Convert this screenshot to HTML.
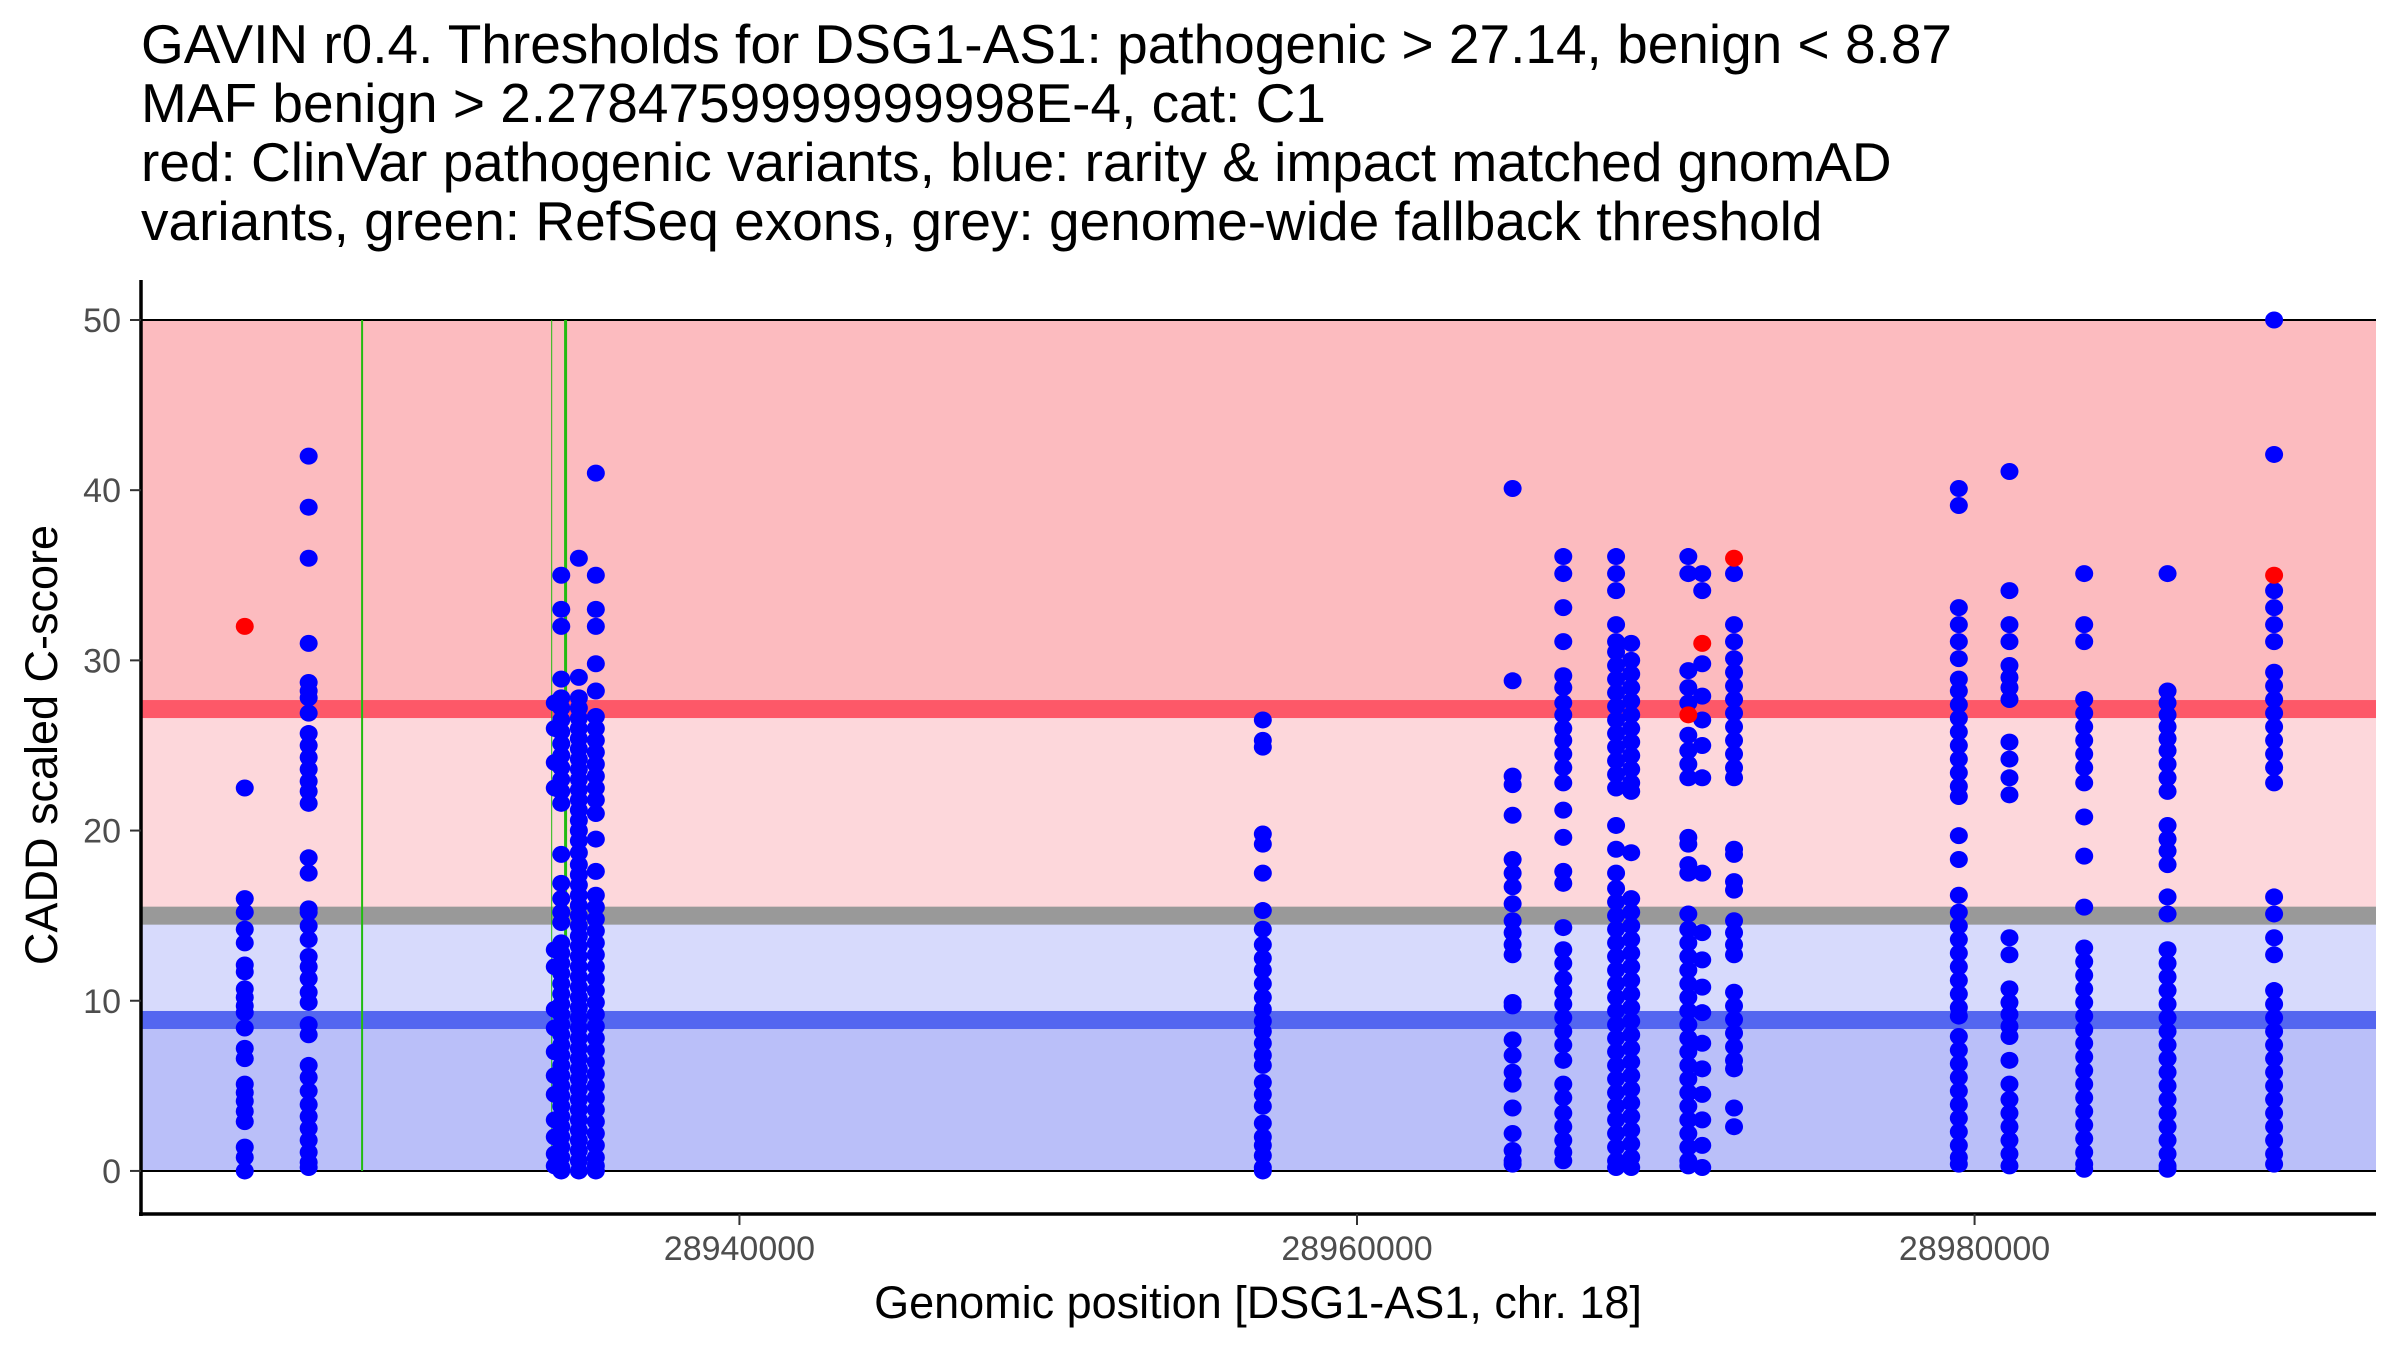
<!DOCTYPE html>
<html><head><meta charset="utf-8"><style>
html,body{margin:0;padding:0;background:#fff;}
svg{display:block;font-family:"Liberation Sans",Arial,sans-serif;}
</style></head><body>
<svg id="chart" width="2400" height="1350" viewBox="0 0 2400 1350" xmlns="http://www.w3.org/2000/svg">
<g font-size="55" fill="#000">
<text x="141" y="63">GAVIN r0.4. Thresholds for DSG1-AS1: pathogenic &gt; 27.14, benign &lt; 8.87</text>
<text x="141" y="122">MAF benign &gt; 2.2784759999999998E-4, cat: C1</text>
<text x="141" y="181">red: ClinVar pathogenic variants, blue: rarity &amp; impact matched gnomAD</text>
<text x="141" y="240">variants, green: RefSeq exons, grey: genome-wide fallback threshold</text>
</g>
<g id="bands"></g>
<g id="exons"></g>
<g id="points"></g>
<g id="axes"></g>
<text x="0" y="0" font-size="45" text-anchor="middle" transform="translate(57,745) rotate(-90)">CADD scaled C-score</text>
<text x="1258" y="1318" font-size="45" text-anchor="middle">Genomic position [DSG1-AS1, chr. 18]</text>
</svg>
<script>
// data
const xTicks = [28940000, 28960000, 28980000];
const yTicks = [0, 10, 20, 30, 40, 50];
const pathoThreshold = 27.14;
const benignThreshold = 8.87;
const fallbackThreshold = 15;
const exonStarts = [28927780, 28933920, 28934370];
const exonWidths = [2, 1, 3];
const redPos = [28923980, 28970730, 28971180, 28972210, 28989700];
const redScore = [32, 26.8, 31, 36, 35];
const columnPos = [28923980, 28926050, 28934020, 28934230, 28934800, 28935350, 28956950, 28965040, 28966680, 28968390, 28968880, 28970730, 28971180, 28972210, 28979490, 28981130, 28983550, 28986250, 28989700];
const columnScores = [
[22.5,16,15.2,14.2,13.4,12.1,11.7,10.7,10.2,9.7,9.3,8.4,7.2,6.6,5.1,4.6,4.1,3.5,2.9,1.4,0.8,0],
[42,39,36,31,28.7,28.2,27.8,26.9,25.7,25,24.3,23.6,22.9,22.3,21.6,18.4,17.5,15.4,15.2,14.4,13.6,12.6,12,11.3,10.5,9.9,8.6,8,6.2,5.5,4.7,3.9,3.2,2.5,1.8,1.1,0.5,0.2],
[27.5,26,24,22.5,13,12,9.5,8.4,7,5.6,4.5,3,2,1,0.3],
[35,33,32,28.9,27.8,27.2,26.5,25.8,25.1,24.4,23.7,23,22.3,21.6,18.6,16.9,16,15.2,14.6,13.4,12.8,12.2,11.6,11,10.4,9.8,9.2,8.6,8,7.4,6.8,6.2,5.6,5,4.4,3.8,3.2,2.6,2,1.4,0.8,0.2,0],
[36,29,27.8,27.2,26.6,26,25.4,24.8,24.2,23.6,23,22.4,21.8,21.2,20.6,20,19.4,18.7,18,17.4,16.8,16.2,15.6,15,14.4,13.8,13.2,12.6,12,11.4,10.8,10.2,9.6,9,8.4,7.8,7.2,6.6,6,5.4,4.8,4.2,3.6,3,2.4,1.8,1.2,0.6,0],
[41,35,33,32,29.8,28.2,26.7,26,25.3,24.6,23.9,23.2,22.5,21.8,21,19.5,17.6,16.2,15.5,14.8,14.1,13.4,12.7,12,11.3,10.6,9.9,9.2,8.5,7.8,7.1,6.4,5.7,5,4.3,3.6,2.9,2.2,1.5,0.8,0.3,0],
[26.5,25.3,24.9,19.8,19.2,17.5,15.3,14.2,13.3,12.5,11.8,11,10.2,9.5,8.8,8.2,7.5,6.8,6.2,5.2,4.5,3.8,2.8,2,1.5,0.9,0.2,0],
[40.1,28.8,23.2,22.7,20.9,18.3,17.5,16.7,15.7,14.7,14,13.3,12.7,9.9,9.7,7.7,6.8,5.8,5.1,3.7,2.2,1.2,0.6,0.4],
[36.1,35.1,33.1,31.1,29.1,28.4,27.5,26.8,26,25.3,24.5,23.7,22.8,21.2,19.6,17.6,16.9,14.3,13,12.2,11.3,10.5,9.8,9,8.2,7.4,6.5,5.1,4.3,3.4,2.6,1.8,1.1,0.6],
[36.1,35.1,34.1,32.1,31.1,30.5,29.7,28.9,28.1,27.3,26.5,25.7,24.9,24.1,23.3,22.5,20.3,18.9,17.5,16.6,15.8,15,14.2,13.4,12.6,11.8,11,10.2,9.4,8.6,7.8,7,6.2,5.4,4.6,3.8,3,2.2,1.4,0.6,0.2],
[31,30,29.2,28.4,27.6,26.8,26,25.2,24.4,23.6,22.8,22.3,18.7,16,15.2,14.4,13.6,12.8,12,11.2,10.4,9.6,8.8,8,7.2,6.4,5.6,4.8,4,3.2,2.4,1.6,0.8,0.2],
[36.1,35.1,29.4,28.4,27.5,25.6,24.7,23.9,23.1,19.6,19.2,18,17.5,15.1,14.2,13.4,12.6,11.8,11,10.2,9.4,8.6,7.8,7,6.2,5.4,4.6,3.8,3,2.2,1.4,0.6,0.3],
[35.1,34.1,29.8,27.9,26.5,25,23.1,17.5,14,12.4,10.8,9.3,7.5,6,4.5,3,1.5,0.2],
[35.1,32.1,31.1,30.1,29.3,28.5,27.7,26.9,26.1,25.3,24.5,23.7,23.1,18.9,18.6,17,16.5,14.7,14,13.3,12.7,10.5,9.7,8.9,8.1,7.3,6.5,6,3.7,2.6],
[40.1,39.1,33.1,32.1,31.1,30.1,28.9,28.2,27.4,26.6,25.8,25,24.2,23.4,22.6,22,19.7,18.3,16.2,15.2,14.4,13.6,12.8,12,11.2,10.4,9.6,9.1,7.9,7.1,6.3,5.5,4.7,3.9,3.1,2.3,1.5,0.8,0.4],
[41.1,34.1,32.1,31.1,29.7,29,28.4,27.7,25.2,24.2,23.1,22.1,13.7,12.7,10.7,9.9,9.2,8.5,7.9,6.5,5.1,4.2,3.4,2.6,1.8,1,0.3],
[35.1,32.1,31.1,27.7,26.9,26.1,25.3,24.5,23.7,22.8,20.8,18.5,15.5,13.1,12.3,11.5,10.7,9.9,9.1,8.3,7.5,6.7,5.9,5.1,4.3,3.5,2.7,1.9,1.1,0.4,0.1],
[35.1,28.2,27.5,26.8,26.1,25.4,24.7,23.9,23.1,22.3,20.3,19.5,18.8,18,16.1,15.1,13,12.2,11.4,10.6,9.8,9,8.2,7.4,6.6,5.8,5,4.2,3.4,2.6,1.8,1,0.3,0.1],
[50,42.1,34.1,33.1,32.1,31.1,29.3,28.5,27.7,26.9,26.1,25.3,24.5,23.7,22.8,16.1,15.1,13.7,12.7,10.6,9.8,9,8.2,7.4,6.6,5.8,5,4.2,3.4,2.6,1.8,1,0.4]
];

const NS = "http://www.w3.org/2000/svg";
const L = 141, R = 2376, T = 280, B = 1214;
const xMin = 28920620, xMax = 28993000, yMin = -2.53, yMax = 52.35;
function xs(v){ return L + (v - xMin) / (xMax - xMin) * (R - L); }
function ys(v){ return B - (v - yMin) / (yMax - yMin) * (B - T); }
function mk(tag, attrs, parent){
  const e = document.createElementNS(NS, tag);
  for (const k in attrs) e.setAttribute(k, attrs[k]);
  parent.appendChild(e); return e;
}
const bands = document.getElementById('bands');
let r;
r = mk('rect', {x:L, y:ys(50), width:R-L, height:ys(pathoThreshold)-ys(50), fill:'#fcbbbf'}, bands);


r = mk('rect', {x:L, y:ys(pathoThreshold), width:R-L, height:ys(fallbackThreshold)-ys(pathoThreshold), fill:'#fdd7db'}, bands);


r = mk('rect', {x:L, y:ys(fallbackThreshold), width:R-L, height:ys(benignThreshold)-ys(fallbackThreshold), fill:'#d7dafc'}, bands);


r = mk('rect', {x:L, y:ys(benignThreshold), width:R-L, height:ys(0)-ys(benignThreshold), fill:'#babff9'}, bands);


r = mk('rect', {x:L, y:ys(pathoThreshold)-9, width:R-L, height:18, fill:'#fd5868'}, bands);


r = mk('rect', {x:L, y:ys(fallbackThreshold)-9, width:R-L, height:18, fill:'#999999'}, bands);


r = mk('rect', {x:L, y:ys(benignThreshold)-9, width:R-L, height:18, fill:'#5466f0'}, bands);


r = mk('line', {x1:L, x2:R, y1:ys(50), y2:ys(50), stroke:'#000', 'stroke-width':2}, bands);


r = mk('line', {x1:L, x2:R, y1:ys(0), y2:ys(0), stroke:'#000', 'stroke-width':2}, bands);



const exons = document.getElementById('exons');
exonStarts.forEach((p, i) => {
  const e = mk('line', {x1:xs(p), x2:xs(p), y1:ys(50), y2:ys(0), stroke:'#22bb11', 'stroke-width':exonWidths[i]}, exons);
  
  
});

const pts = document.getElementById('points');
columnPos.forEach((p, i) => {
  columnScores[i].forEach(s => {
    const c = mk('ellipse', {cx:xs(p), cy:ys(s), rx:9, ry:8.5, fill:'#0000ff'}, pts);
    
    
  });
});
redPos.forEach((p, i) => {
  const c = mk('ellipse', {cx:xs(p), cy:ys(redScore[i]), rx:9, ry:8.5, fill:'#ff0000'}, pts);
  
  
});

const axes = document.getElementById('axes');
r = mk('line', {x1:L, x2:L, y1:T, y2:B+2, stroke:'#000', 'stroke-width':3.5}, axes);


r = mk('line', {x1:L-2, x2:R, y1:B, y2:B, stroke:'#000', 'stroke-width':3.5}, axes);


yTicks.forEach(v => {
  const t = mk('line', {x1:L-11, x2:L, y1:ys(v), y2:ys(v), stroke:'#333', 'stroke-width':2}, axes);
  
  
  const tx = mk('text', {x:L-20, y:ys(v)+12, 'font-size':34, fill:'#4d4d4d', 'text-anchor':'end'}, axes);
  tx.textContent = v;
  
  
});
xTicks.forEach(v => {
  const t = mk('line', {x1:xs(v), x2:xs(v), y1:B, y2:B+11, stroke:'#333', 'stroke-width':2}, axes);
  
  
  const tx = mk('text', {x:xs(v), y:B+46, 'font-size':34, fill:'#4d4d4d', 'text-anchor':'middle'}, axes);
  tx.textContent = v;
  
  
});
</script>
</body></html>
